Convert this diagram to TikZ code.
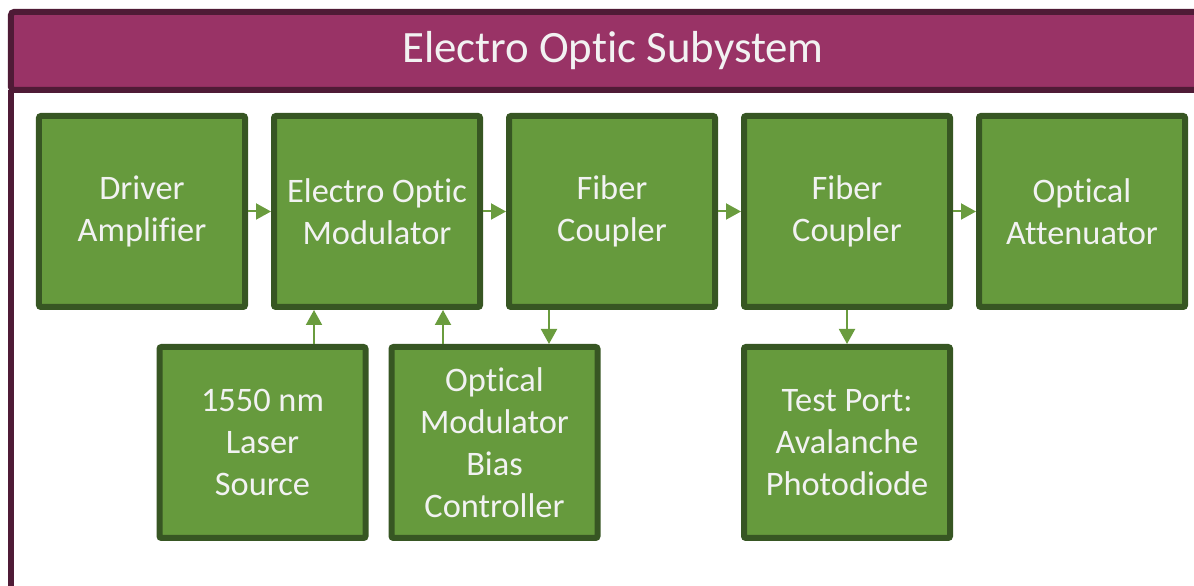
\documentclass[tikz,border=0pt]{standalone}
\usepackage{fontspec}
\setmainfont{Carlito}[Ligatures=NoCommon]
\usetikzlibrary{positioning, arrows.meta}
\definecolor{clrheader}{HTML}{993366}
\definecolor{clrframe}{HTML}{4F1B36}
\definecolor{clrblock}{HTML}{669A3D}
\definecolor{clrblockborder}{HTML}{375623}
\definecolor{clrarrow}{HTML}{6A9C3E}
\definecolor{clrtext}{HTML}{F2F2F2}

\begin{document}
\begin{tikzpicture}[
    x=1bp, y=1bp,
    >={Triangle[length=15bp, width=16bp]},
    block/.style={draw=clrblockborder, fill=clrblock, line width=6bp, rounded corners=2bp,
                  minimum width=206bp, minimum height=191bp, outer sep=3bp, inner sep=0pt,
                  text=clrtext, align=center, font=\fontsize{34.5}{42}\selectfont},
    arrow/.style={->, color=clrarrow, line width=2bp},
    header/.style={draw=clrframe, fill=clrheader, line width=6bp, rounded corners=3bp,
                   minimum width=1204bp, minimum height=78bp, outer sep=0pt,
                   text=clrtext, font=\fontsize{45}{52}\selectfont},
    frame/.style={draw=clrframe, line width=6bp},
]
\useasboundingbox (0,0) rectangle (1194,586);
\clip (0,0) rectangle (1194,586);
% subsystem frame
\node[header] (hdr) at (613,535) {Electro Optic Subystem};
\draw[frame] (hdr.south west) -- ++(0,-520);
% top row
\node[block] (drv) at (142,374.5) {Driver\\Amplifier};
\node[block, right=23bp of drv] (eom) {Electro Optic\\Modulator};
\node[block, right=23bp of eom] (fc1) {Fiber\\Coupler};
\node[block, right=23bp of fc1] (fc2) {Fiber\\Coupler};
\node[block, right=23bp of fc2] (att) {Optical\\Attenuator};
% bottom row
\node[block] (laser) at (262.5,143.5) {1550 nm\\Laser\\Source};
\node[block, right=20bp of laser] (bias) {Optical\\Modulator\\Bias\\Controller};
\node[block, below=34bp of fc2] (tst) {Test Port:\\Avalanche\\Photodiode};
% connectors
\draw[arrow] (drv.east) -- (eom.west);
\draw[arrow] (eom.east) -- (fc1.west);
\draw[arrow] (fc1.east) -- (fc2.west);
\draw[arrow] (fc2.east) -- (att.west);
\draw[arrow] ([xshift=51.5bp]laser.north) -- ([xshift=51.5bp]laser.north |- eom.south);
\draw[arrow] ([xshift=-51.5bp]bias.north) -- ([xshift=-51.5bp]bias.north |- eom.south);
\draw[arrow] ([xshift=-63bp]fc1.south) -- ([xshift=-63bp]fc1.south |- bias.north);
\draw[arrow] (fc2.south) -- (tst.north);
\end{tikzpicture}
\end{document}
